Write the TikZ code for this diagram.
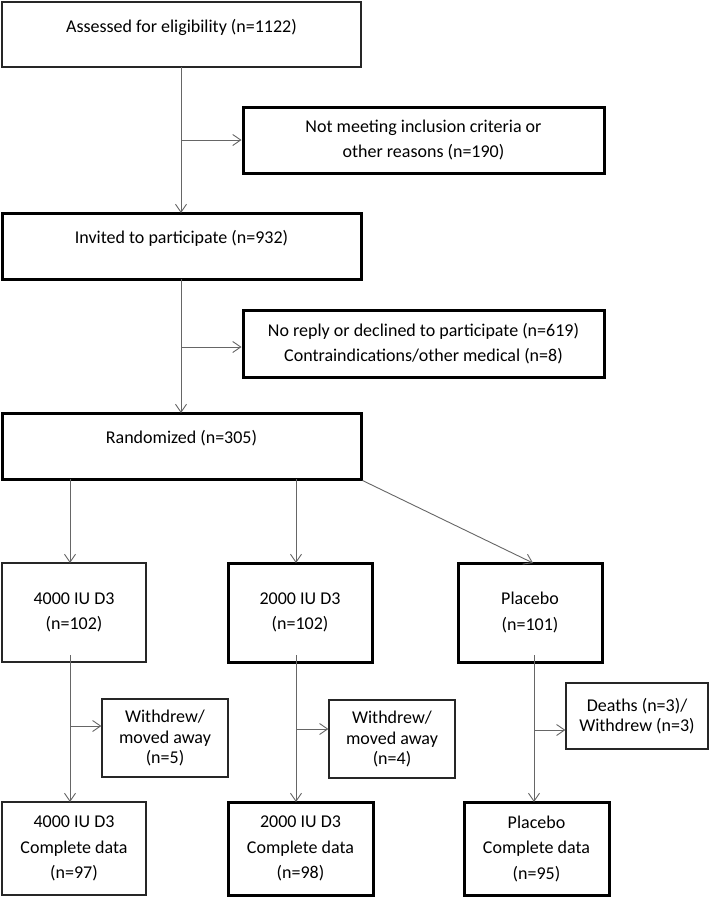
\documentclass[tikz,border=0pt]{standalone}
\usepackage{fontspec}
\setmainfont{Carlito}
\usetikzlibrary{arrows.meta,calc}
\begin{document}
\begin{tikzpicture}[x=1pt,y=-1pt,
  font=\fontsize{18}{22}\selectfont,
  thinbox/.style={draw=black!85, line width=1.3pt, inner sep=0pt, align=center},
  thickbox/.style={draw=black, line width=3pt, inner sep=0pt, align=center},
  conn/.style={draw=black!60, line width=0.9pt},
  arr/.style={conn, -{Straight Barb[length=8pt,width=11pt,line width=0.9pt]}},
  sp/.style={font=\fontsize{18}{25.5}\selectfont},
  sm/.style={font=\fontsize{18}{20.5}\selectfont}
]
\useasboundingbox (0,0) rectangle (709,897);
\fill[white] (0,0) rectangle (709,897);

% top chain
\node[thinbox, minimum width=359pt, minimum height=65pt] (A) at (181.5,34.5) {};
\node (At) at (181.5,27) {Assessed for eligibility (n=1122)};
\node[thickbox, sp, minimum width=361pt, minimum height=66pt] (B) at (423.5,140) {Not meeting inclusion criteria or\\other reasons (n=190)};
\node[thickbox, minimum width=359pt, minimum height=66pt] (C) at (181.5,246) {};
\node (Ct) at (181.5,238) {Invited to participate (n=932)};
\node[thickbox, sp, minimum width=361pt, minimum height=67pt] (D) at (423.5,343.5) {No reply or declined to participate (n=619)\\Contraindications/other medical (n=8)};
\node[thickbox, minimum width=359pt, minimum height=66pt] (E) at (181.5,446) {};
\node (Et) at (181.5,438) {Randomized (n=305)};

% arms
\node[thinbox, sp, minimum width=144pt, minimum height=99pt] (F1) at (74,612.5) {4000 IU D3\\(n=102)};
\node[thickbox, sp, minimum width=144pt, minimum height=99pt] (F2) at (300,612.5) {2000 IU D3\\(n=102)};
\node[thickbox, sp, minimum width=144pt, minimum height=99pt] (F3) at (530,612.5) {Placebo\\(n=101)};

% withdrawals
\node[thinbox, sm, minimum width=126pt, minimum height=78pt] (W1) at (165,738) {Withdrew/\\moved away\\(n=5)};
\node[thinbox, sm, minimum width=126pt, minimum height=78pt] (W2) at (392,739) {Withdrew/\\moved away\\(n=4)};
\node[thinbox, sm, minimum width=142pt, minimum height=66pt] (W3) at (637,716) {Deaths (n=3)/\\Withdrew (n=3)};

% complete data
\node[thinbox, sp, minimum width=144pt, minimum height=93pt] (G1) at (74,848.5) {4000 IU D3\\Complete data\\(n=97)};
\node[thickbox, sp, minimum width=145pt, minimum height=93pt] (G2) at (300.5,848.5) {2000 IU D3\\Complete data\\(n=98)};
\node[thickbox, sp, minimum width=145pt, minimum height=93pt] (G3) at (536.5,848.5) {Placebo\\Complete data\\(n=95)};

% connectors
\coordinate (b1) at (181,140);
\coordinate (b2) at (181,347);
\draw[arr] (181,67) -- (181,213);
\draw[arr] (b1) -- (B.west |- b1);
\draw[arr] (181,279) -- (181,413);
\draw[arr] (b2) -- (B.west |- b2);

\draw[arr] (70,479) -- (70,563);
\draw[arr] (296,479) -- (296,563);
\draw[arr] (E.south east) -- (533,563);

\coordinate (c1) at (70,726);
\coordinate (c2) at (296,729);
\coordinate (c3) at (534,730);
\draw[arr] (70,655) -- (70,802);
\draw[arr] (c1) -- (W1.west |- c1);
\draw[arr] (296,655) -- (296,802);
\draw[arr] (c2) -- (W2.west |- c2);
\draw[arr] (534,655) -- (534,802);
\draw[arr] (c3) -- (W3.west |- c3);
\end{tikzpicture}
\end{document}
